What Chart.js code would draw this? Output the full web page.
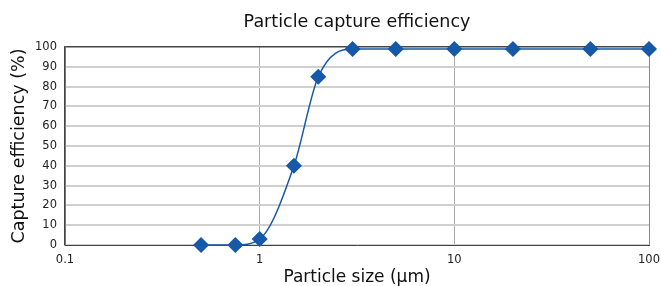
<!DOCTYPE html>
<html>
<head>
<meta charset="utf-8">
<script src="https://cdn.jsdelivr.net/npm/chart.js@4"></script>
<style>
  body { margin: 0; background: #fff; }
</style>
</head>
<body>
<canvas id="myChart" width="661" height="286"></canvas>
<script>
// particle size in µm, capture efficiency in %
const sizes = [0.5, 0.75, 1, 1.5, 2, 3, 5, 10, 20, 50, 100];
const efficiency = [0, 0, 3, 40, 85, 99, 99, 99, 99, 99, 99];
const xTicks = [0.1, 1, 10, 100];

const ctx = document.getElementById('myChart');
Chart.defaults.font.family = '"DejaVu Sans", sans-serif';
Chart.defaults.color = '#222';

const points = sizes.map((s, i) => ({x: s, y: efficiency[i]}));

// centre the title over the plot area, not the whole canvas
const titleOverPlot = {
  id: 'titleOverPlot',
  afterLayout(chart) {
    const tb = chart.titleBlock;
    if (tb) {
      tb.left = chart.chartArea.left;
      tb.right = chart.chartArea.right;
    }
  }
};

const myChart = new Chart(ctx, {
  type: 'line',
  data: {
    datasets: [{
      label: 'Capture efficiency',
      data: points,
      borderColor: '#1659a8',
      backgroundColor: '#1659a8',
      borderWidth: 1.5,
      pointStyle: 'rectRot',
      pointRadius: 7,
      pointHoverRadius: 7,
      cubicInterpolationMode: 'monotone',
      clip: false
    }]
  },
  plugins: [titleOverPlot],
  options: {
    responsive: false,
    animation: false,
    layout: { padding: { left: 0, right: 12, top: 0, bottom: 0 } },
    plugins: {
      legend: { display: false },
      tooltip: { enabled: false },
      title: {
        display: true,
        text: 'Particle capture efficiency',
        font: { size: 17.5, weight: 'normal' },
        color: '#111',
        padding: { top: 12, bottom: 14 }
      }
    },
    scales: {
      x: {
        type: 'logarithmic',
        min: 0.1,
        max: 100,
        afterBuildTicks: (scale) => { scale.ticks = xTicks.map(v => ({value: v})); },
        afterFit: (scale) => {
          scale.height = 41;
          scale.paddingLeft = 0;
          scale.paddingRight = 0;
        },
        ticks: {
          font: { size: 11.5 },
          color: '#222',
          padding: 8,
          maxRotation: 0,
          callback: (v) => String(v)
        },
        grid: {
          drawTicks: false,
          color: (c) => (c.tick && c.tick.value === 100) ? '#888' : '#aaa',
          lineWidth: 1
        },
        border: { color: '#444', width: 1 },
        title: {
          display: true,
          text: 'Particle size (µm)',
          font: { size: 17, lineHeight: 1.0 },
          color: '#111',
          padding: { top: 0, bottom: 0 }
        }
      },
      y: {
        min: 0,
        max: 100,
        afterFit: (scale) => { scale.width = 65; },
        ticks: {
          stepSize: 10,
          font: { size: 11.5 },
          color: '#222',
          padding: 8
        },
        grid: {
          drawTicks: false,
          color: (c) => (c.tick && c.tick.value === 100) ? '#444' : '#d0d0d0',
          lineWidth: (c) => (c.tick && (c.tick.value === 100 || c.tick.value === 0)) ? 1.5 : 2
        },
        border: { color: '#444', width: 1.5 },
        title: {
          display: true,
          text: 'Capture efficiency (%)',
          font: { size: 17.5 },
          color: '#111',
          padding: { top: 9, bottom: 2 }
        }
      }
    }
  }
});
</script>
</body>
</html>
